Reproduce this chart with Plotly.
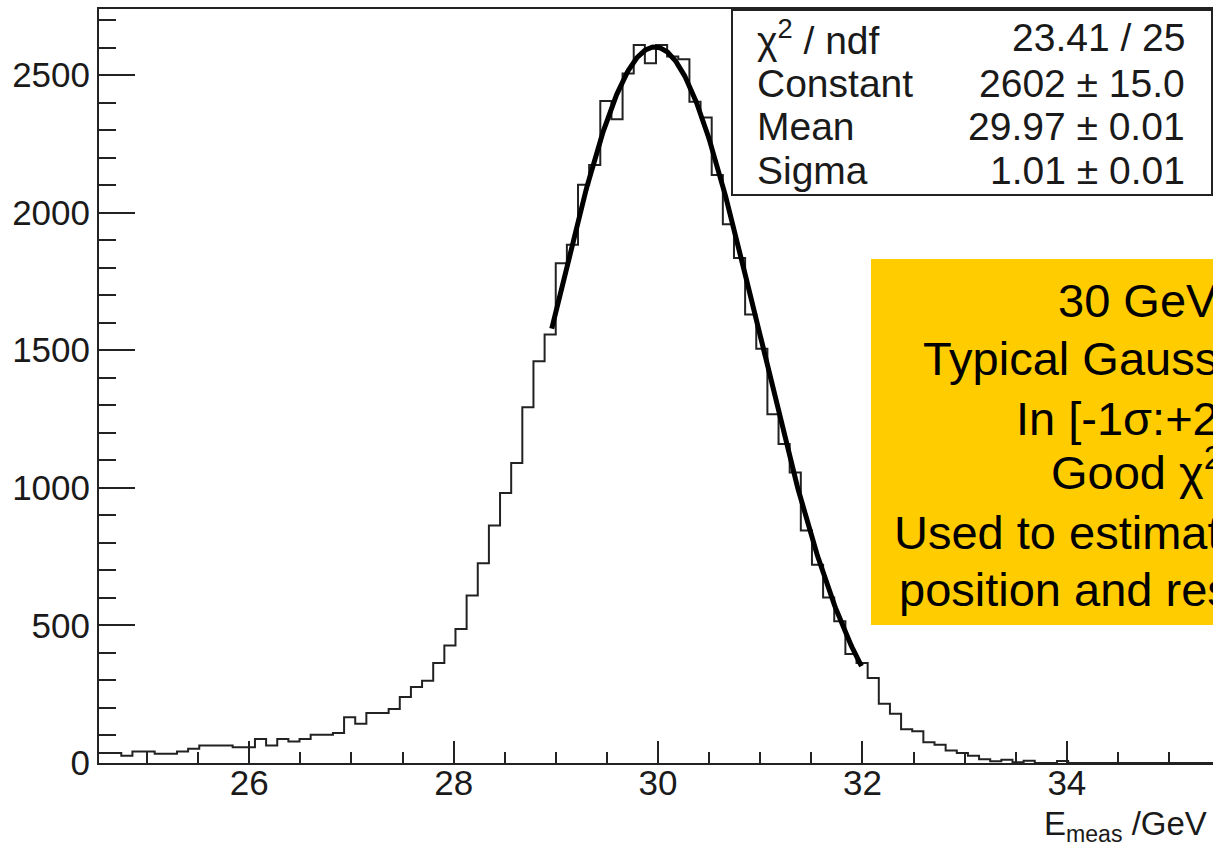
import numpy as np
import plotly.graph_objects as go

# ---------------- data ----------------
bin_low = 24.53
bin_width = 0.109
counts = [36, 36, 26, 42, 42, 34, 34, 42, 52, 64,
          64, 64, 57, 57, 87, 64, 87, 78, 87, 103,
          103, 109, 166, 143, 182, 182, 196, 240, 276, 299,
          363, 427, 487, 609, 726, 863, 981, 1090, 1293, 1460,
          1557, 1816, 1883, 2101, 2173, 2406, 2339, 2506, 2609, 2543,
          2609, 2567, 2557, 2403, 2346, 2137, 1958, 1835, 1630, 1505,
          1267, 1159, 1056, 845, 720, 601, 515, 396, 363, 309,
          215, 179, 123, 115, 75, 66, 45, 36, 26, 14,
          6, 12, 3, 8, 0, 0, 7, 0, 0, 0,
          0, 0, 0, 0, 0, 0, 0, 0, 0, 0]

fit_constant = 2602
fit_mean = 29.97
fit_sigma = 1.01
fit_range = [28.96, 31.99]   # [-1 sigma : +2 sigma]

stat_names = ["χ<sup>2</sup> / ndf", "Constant", "Mean", "Sigma"]
stat_values = ["23.41 / 25", "2602 ± 15.0", "29.97 ± 0.01", "1.01 ± 0.01"]

note_lines = ["30 GeV", "Typical Gaussian fit", "In [-1σ:+2σ]", "Good χ<sup>2</sup>",
              "Used to estimate peak", "position and resolution"]

x_range = [24.53, 35.43]
y_range = [0, 2740]

# ---------------- layout geometry ----------------
W, H = 1213, 845
L, T = 99, 9
PW = W - L
PH = 754
B = H - T - PH


def px(x):
    return (x - L) / PW


def py(y):
    return (T + PH - y) / PH


FONT = "Liberation Sans, Arial, Helvetica, sans-serif"
INK = "#1a1a1a"

edges = bin_low + bin_width * np.arange(len(counts) + 1)
hist_y = counts + [counts[-1]]

fx = np.linspace(fit_range[0], fit_range[1], 300)
fy = fit_constant * np.exp(-0.5 * ((fx - fit_mean) / fit_sigma) ** 2)

fig = go.Figure()
fig.add_trace(go.Scatter(x=edges, y=hist_y, mode="lines", line_shape="hv",
                         line=dict(color="#222222", width=2), hoverinfo="skip",
                         showlegend=False))
fig.add_trace(go.Scatter(x=fx, y=fy, mode="lines",
                         line=dict(color="#000000", width=5), hoverinfo="skip",
                         showlegend=False))

shapes = [
    dict(type="rect", xref="paper", yref="paper", x0=px(732), x1=px(1212), y0=py(195), y1=py(10),
         line=dict(color="#222222", width=2), fillcolor="white", layer="above"),
    dict(type="rect", xref="paper", yref="paper", x0=px(871), x1=px(1420), y0=py(625), y1=py(259),
         line=dict(width=0), fillcolor="#FFCC00", layer="above"),
]

annotations = []
stat_rows = [37, 83, 127, 170]
for name, val, yy in zip(stat_names, stat_values, stat_rows):
    annotations.append(dict(xref="paper", yref="paper", x=px(755), y=py(yy), text=name,
                            xanchor="left", yanchor="middle", showarrow=False,
                            font=dict(family=FONT, size=39, color=INK)))
    annotations.append(dict(xref="paper", yref="paper", x=px(1187), y=py(yy), text=val,
                            xanchor="right", yanchor="middle", showarrow=False,
                            font=dict(family=FONT, size=39, color=INK)))

note_left = [1056, 921, 1014, 1049, 892, 897]
note_rows = [300, 358, 418, 469, 532, 589]
for line, xx, yy in zip(note_lines, note_left, note_rows):
    annotations.append(dict(xref="paper", yref="paper", x=px(xx), y=py(yy), text=line,
                            xanchor="left", yanchor="middle", showarrow=False,
                            font=dict(family=FONT, size=47, color="#000000")))

annotations.append(dict(xref="paper", yref="paper", x=px(1209), y=py(826),
                        text="E<sub>meas</sub> /GeV", xanchor="right", yanchor="middle",
                        showarrow=False, font=dict(family=FONT, size=33, color=INK)))

fig.update_layout(
    width=W, height=H,
    margin=dict(l=L, r=0, t=T, b=B, pad=0, autoexpand=False),
    paper_bgcolor="white", plot_bgcolor="white",
    shapes=shapes, annotations=annotations,
    showlegend=False,
    xaxis=dict(range=x_range, showline=True, linecolor="#222222", linewidth=2, mirror=True,
               automargin=False, ticklabelstandoff=-12,
               ticks="inside", ticklen=22, tickwidth=2, tickcolor="#222222",
               tick0=0, dtick=2, showgrid=False, zeroline=False,
               tickfont=dict(family=FONT, size=35, color=INK),
               minor=dict(ticks="inside", dtick=0.5, ticklen=11, tickwidth=2,
                          tickcolor="#222222", showgrid=False)),
    yaxis=dict(range=y_range, showline=True, linecolor="#222222", linewidth=2, mirror=True,
               automargin=False,
               ticks="inside", ticklen=36, tickwidth=2, tickcolor="#222222",
               tick0=0, dtick=500, showgrid=False, zeroline=False,
               tickfont=dict(family=FONT, size=35, color=INK),
               minor=dict(ticks="inside", dtick=100, ticklen=17, tickwidth=2,
                          tickcolor="#222222", showgrid=False)),
)

fig.write_html("out.html", config={"displayModeBar": False, "staticPlot": True},
               post_script="document.body.style.margin='0';document.body.style.overflow='hidden';")
